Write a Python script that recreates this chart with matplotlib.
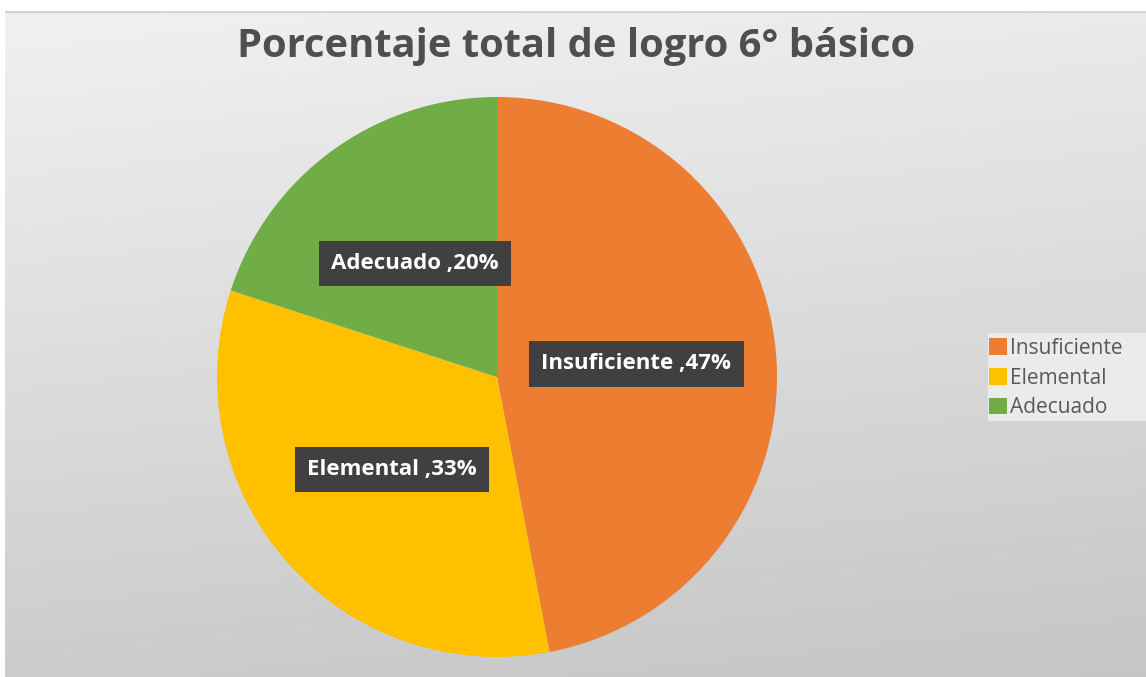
import numpy as np
import matplotlib
matplotlib.use("Agg")
import matplotlib.pyplot as plt
from matplotlib.patches import Patch, Rectangle

categories = ["Insuficiente", "Elemental", "Adecuado"]
values = [47, 33, 20]
label_texts = ["Insuficiente ,47%", "Elemental ,33%", "Adecuado ,20%"]
colors = ["#ED7D31", "#FFC000", "#70AD47"]
title = "Porcentaje total de logro 6° básico"

W, H = 1146, 677
fig = plt.figure(figsize=(W / 100, H / 100), dpi=100)
fig.patch.set_facecolor("white")

# background gradient panel (row 0 = top)
bg = fig.add_axes([5 / W, 0, 1 - 5 / W, 1 - 11 / H], zorder=-5)
ny, nx = 200, 300
yy, xx = np.mgrid[0:1:ny * 1j, 0:1:nx * 1j]
t = 0.85 * yy + 0.15 * xx
top = np.array([0.945, 0.945, 0.945])
bot = np.array([0.775, 0.775, 0.775])
img = top[None, None, :] * (1 - t[..., None]) + bot[None, None, :] * t[..., None]
bg.imshow(img, aspect="auto", extent=[0, 1, 0, 1], origin="upper", interpolation="bilinear")
bg.axhline(1, color="#D4D4D4", lw=3)
bg.set_xlim(0, 1)
bg.set_ylim(0, 1)
bg.axis("off")

# pie
cx, cy, r = 497, 377, 280
ax = fig.add_axes([(cx - r) / W, (H - cy - r) / H, 2 * r / W, 2 * r / H])
wedges, _ = ax.pie(values, colors=colors, startangle=90, counterclock=False,
                   radius=1, wedgeprops=dict(linewidth=0))
ax.set_xlim(-1, 1)
ax.set_ylim(-1, 1)
ax.set_aspect("auto")
ax.axis("off")

for w, lab in zip(wedges, label_texts):
    mid = np.deg2rad((w.theta1 + w.theta2) / 2)
    ax.text(0.5 * np.cos(mid), 0.5 * np.sin(mid), lab, ha="center", va="center",
            color="white", fontsize=16, fontweight="bold", family="Open Sans",
            bbox=dict(boxstyle="square,pad=0.55", facecolor="#404040", edgecolor="none"))

fig.text(576 / W, 1 - 47 / H, title, ha="center", va="center", fontsize=28.7,
         color="#4F4F4F", family="Open Sans", fontweight="bold")

# legend background panel
fig.patches.append(Rectangle((988 / W, 1 - 421 / H), (W - 988) / W, 88 / H,
                             transform=fig.transFigure, facecolor="#EBEBEB",
                             edgecolor="none", zorder=0))

handles = [Patch(facecolor=c, edgecolor="none") for c in colors]
leg = fig.legend(handles, categories, loc="center left",
                 bbox_to_anchor=(989 / W, 1 - 378 / H), frameon=False,
                 handlelength=0.87, handleheight=0.87,
                 handletextpad=0.15, labelspacing=0.42, borderpad=0, borderaxespad=0,
                 prop=dict(family="Open Sans", size=15))
for txt in leg.get_texts():
    txt.set_color("#595959")

fig.savefig("out.png", dpi=100)
